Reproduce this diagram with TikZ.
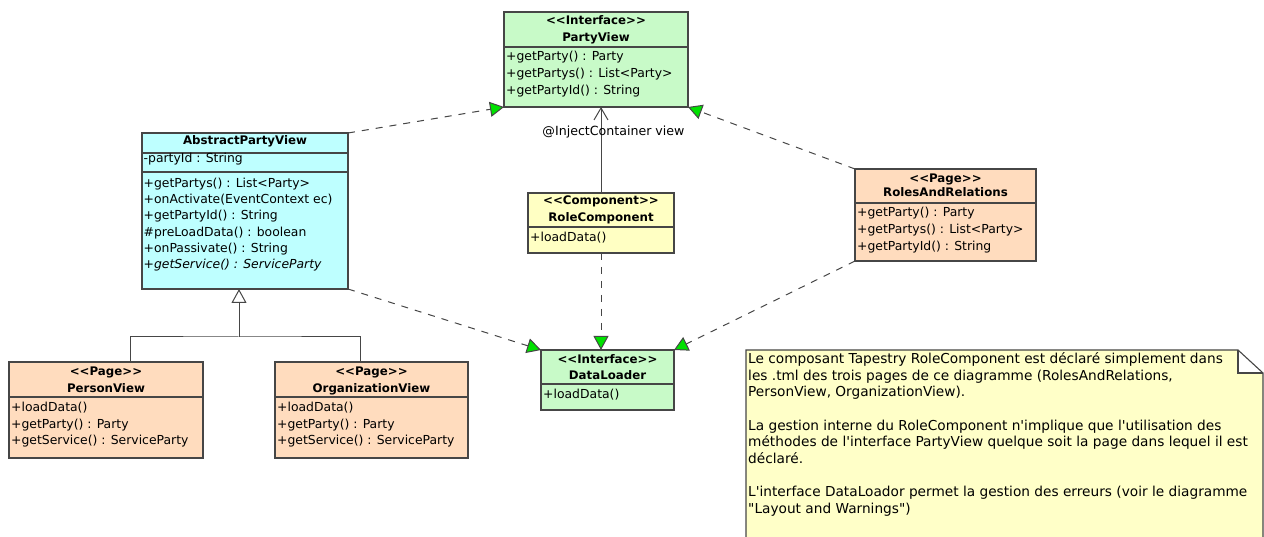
\documentclass[tikz,border=0pt]{standalone}
\usepackage{fontspec}
\newfontfamily\umlfont{DejaVu Sans}
\usetikzlibrary{arrows.meta}

\definecolor{linegray}{RGB}{70,70,70}
\definecolor{ifgreen}{RGB}{200,250,200}
\definecolor{abscyan}{RGB}{190,255,255}
\definecolor{compyellow}{RGB}{255,255,195}
\definecolor{pagepeach}{RGB}{255,220,190}
\definecolor{noteyellow}{RGB}{255,255,200}
\definecolor{tipgreen}{RGB}{0,225,0}

\begin{document}
\begin{tikzpicture}[x=1pt,y=-1pt,
  box/.style={draw=linegray, line width=1.1pt, inner sep=0pt, outer sep=0pt, anchor=north west},
  sepline/.style={draw=linegray, line width=1.1pt},
  member/.style={font=\umlfont\fontsize{12.4}{14}\selectfont, inner sep=0pt, anchor=base west},
  head/.style={font=\umlfont\bfseries\fontsize{11.8}{14}\selectfont, inner sep=0pt, anchor=base},
  realize/.style={draw=linegray, line width=1pt, dash pattern=on 7pt off 7pt,
    -{Triangle[length=14pt,width=15pt,fill=tipgreen]}},
  inject/.style={draw=linegray, line width=1pt, -{Straight Barb[length=12pt,width=14pt]}},
  tree/.style={draw=linegray, line width=1pt},
  inherit/.style={draw=linegray, line width=1pt, -{Triangle[open,length=14pt,width=15pt,fill=white]}},
  notetext/.style={font=\umlfont\fontsize{13.7}{16.6}\selectfont, inner sep=0pt, anchor=base west, align=left}
]
\useasboundingbox (0,0) rectangle (1264,537);
\clip (0,0) rectangle (1264,537);

% ---- PartyView interface
\node[box, fill=ifgreen, minimum width=184pt, minimum height=95pt] (pv) at (504,12) {};
\draw[sepline] (504,47) -- (688,47);
\node[head] (pv-st) at (596,25) {<<Interface>>};
\node[head] (pv-nm) at (596,42) {PartyView};
\node[member] (pv-m1) at (506,61) {+getParty() : Party};
\node[member] (pv-m2) at (506,78) {+getPartys() : List<Party>};
\node[member] (pv-m3) at (506,95) {+getPartyId() : String};

% ---- AbstractPartyView
\node[box, fill=abscyan, minimum width=206pt, minimum height=156pt] (apv) at (142,133) {};
\draw[sepline] (142,153) -- (348,153);
\draw[sepline] (142,172) -- (348,172);
\node[head] (apv-nm) at (245,145) {AbstractPartyView};
\node[member] (apv-a1) at (143.5,163) {-partyId : String};
\node[member] (apv-m1) at (143.5,188) {+getPartys() : List<Party>};
\node[member] (apv-m2) at (143.5,204) {+onActivate(EventContext ec)};
\node[member] (apv-m3) at (143.5,220) {+getPartyId() : String};
\node[member] (apv-m4) at (143.5,237) {\#preLoadData() : boolean};
\node[member] (apv-m5) at (143.5,253) {+onPassivate() : String};
\node[member, font=\umlfont\itshape\fontsize{12.4}{14}\selectfont] (apv-m6) at (143.5,269) {+getService() : ServiceParty};

% ---- RoleComponent
\node[box, fill=compyellow, minimum width=146pt, minimum height=60pt] (rc) at (528,193) {};
\draw[sepline] (528,227) -- (674,227);
\node[head] (rc-st) at (601,205) {<<Component>>};
\node[head] (rc-nm) at (601,222) {RoleComponent};
\node[member] (rc-m1) at (530,242) {+loadData()};

% ---- RolesAndRelations page
\node[box, fill=pagepeach, minimum width=181pt, minimum height=92pt] (rr) at (855,169) {};
\draw[sepline] (855,203) -- (1036,203);
\node[head] (rr-st) at (945.5,183) {<<Page>>};
\node[head] (rr-nm) at (945.5,197) {RolesAndRelations};
\node[member] (rr-m1) at (857,217) {+getParty() : Party};
\node[member] (rr-m2) at (857,234) {+getPartys() : List<Party>};
\node[member] (rr-m3) at (857,251) {+getPartyId() : String};

% ---- PersonView page
\node[box, fill=pagepeach, minimum width=194pt, minimum height=96pt] (pers) at (9,362) {};
\draw[sepline] (9,397) -- (203,397);
\node[head] (pers-st) at (106,375) {<<Page>>};
\node[head] (pers-nm) at (106,392) {PersonView};
\node[member] (pers-m1) at (11,411) {+loadData()};
\node[member] (pers-m2) at (11,428) {+getParty() : Party};
\node[member] (pers-m3) at (11,444) {+getService() : ServiceParty};

% ---- OrganizationView page
\node[box, fill=pagepeach, minimum width=193pt, minimum height=96pt] (org) at (275,362) {};
\draw[sepline] (275,397) -- (468,397);
\node[head] (org-st) at (371.5,375) {<<Page>>};
\node[head] (org-nm) at (371.5,392) {OrganizationView};
\node[member] (org-m1) at (277,411) {+loadData()};
\node[member] (org-m2) at (277,428) {+getParty() : Party};
\node[member] (org-m3) at (277,444) {+getService() : ServiceParty};

% ---- DataLoader interface
\node[box, fill=ifgreen, minimum width=133pt, minimum height=60pt] (dl) at (541,350) {};
\draw[sepline] (541,384) -- (674,384);
\node[head] (dl-st) at (607.5,363) {<<Interface>>};
\node[head] (dl-nm) at (607.5,380) {DataLoader};
\node[member] (dl-m1) at (543,399) {+loadData()};

% ---- realizations
\draw[realize] (apv.north east) -- (pv.south west);
\draw[realize] (rr.north west) -- (pv.south east);
\draw[realize] (apv.south east) -- (dl.north west);
\draw[realize] (rc.south) -- (rc.south |- dl.north);
\draw[realize] (rr.south west) -- (dl.north east);

% ---- injection of the PartyView into the component
\draw[inject] (rc.north) -- (rc.north |- pv.south);
\node[font=\umlfont\fontsize{12.6}{14}\selectfont, inner sep=0pt, anchor=base] (injlbl) at (613.5,136) {@InjectContainer view};

% ---- generalization tree
\coordinate (pertop) at (130,362);
\coordinate (orgtop) at (360,362);
\coordinate (junc) at (239,337);
\draw[tree] (pertop) |- (junc) -| (orgtop);
\draw[inherit] (junc) -- (junc |- apv.south);

% ---- note with folded corner (text node anchored on its last baseline)
\fill[noteyellow] (746,350) -- (1238,350) -- (1263,373) -- (1263,545) -- (746,545) -- cycle;
\fill[white] (1238,350) -- (1263,373) -- (1238,373) -- cycle;
\draw[linegray, line width=1.1pt] (746,545) -- (746,350) -- (1238,350) -- (1263,373) -- (1263,545);
\draw[linegray, line width=1.1pt] (1238,350) -- (1238,373) -- (1263,373);
\node[notetext] (note) at (748,513) {Le composant Tapestry RoleComponent est déclaré simplement dans\\
les .tml des trois pages de ce diagramme (RolesAndRelations,\\
PersonView, OrganizationView).\\[16.6pt]
La gestion interne du RoleComponent n'implique que l'utilisation des\\
méthodes de l'interface PartyView quelque soit la page dans lequel il est\\
déclaré.\\[16.6pt]
L'interface DataLoador permet la gestion des erreurs (voir le diagramme\\
"Layout and Warnings")};
\end{tikzpicture}
\end{document}
